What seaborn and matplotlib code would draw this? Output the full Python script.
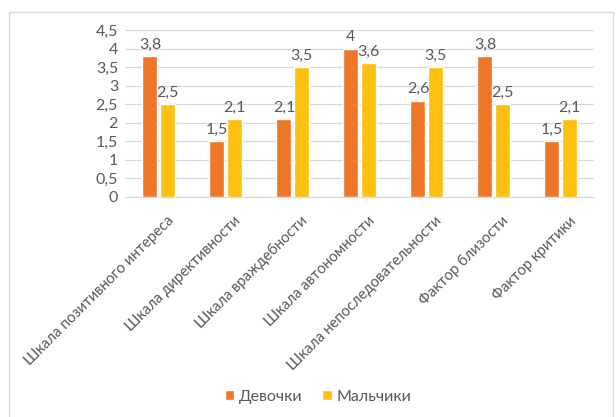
import pandas as pd
import matplotlib.pyplot as plt
import matplotlib.transforms as mtrans
import seaborn as sns
from matplotlib.patches import Rectangle
from matplotlib.ticker import FuncFormatter

# данные с диаграммы
categories = [
    "Шкала позитивного интереса",
    "Шкала директивности",
    "Шкала враждебности",
    "Шкала автономности",
    "Шкала непоследовательности",
    "Фактор близости",
    "Фактор критики",
]
girls = [3.8, 1.5, 2.1, 4.0, 2.6, 3.8, 1.5]
boys = [2.5, 2.1, 3.5, 3.6, 3.5, 2.5, 2.1]
series_names = ["Девочки", "Мальчики"]
colors = ["#EE7629", "#FCC010"]

df = pd.DataFrame({
    "cat": categories * 2,
    "val": girls + boys,
    "group": [series_names[0]] * len(categories) + [series_names[1]] * len(categories),
})

sns.set_style("white")
plt.rcParams["font.family"] = ["Lato", "Noto Sans", "DejaVu Sans"]
text_col = "#595959"
fs = 11.5

fig = plt.figure(figsize=(6.16, 4.17), dpi=100)
fig.patches.append(Rectangle((9 / 616, -2 / 417), 604 / 616, 407 / 417,
                             transform=fig.transFigure, fill=False,
                             edgecolor="#D9D9D9", linewidth=1))
ax = fig.add_axes([125 / 616, 1 - 197 / 417, 469 / 616, 167 / 417])

sns.barplot(data=df, x="cat", y="val", hue="group", palette=colors,
            saturation=1, width=0.51, gap=0.12, ax=ax, legend=True)

for cont in ax.containers:
    ax.bar_label(cont, labels=[f"{v:g}".replace(".", ",") for v in cont.datavalues],
                 padding=3, fontsize=fs, color=text_col)

ax.set_ylim(0, 4.5)
ax.set_yticks([i * 0.5 for i in range(10)])
ax.yaxis.set_major_formatter(FuncFormatter(lambda v, p: f"{v:g}".replace(".", ",")))
ax.yaxis.grid(True, color="#D9D9D9", linewidth=0.9)
ax.set_axisbelow(True)
for s in ["top", "right", "left"]:
    ax.spines[s].set_visible(False)
ax.spines["bottom"].set_color("#D9D9D9")
ax.tick_params(axis="both", length=0, labelsize=fs, labelcolor=text_col)
ax.tick_params(axis="y", pad=5)
ax.set_xlabel("")
ax.set_ylabel("")
ax.set_xticks(range(len(categories)))
ax.set_xticklabels(categories, rotation=45, ha="right", rotation_mode="anchor",
                   fontsize=10.7, color=text_col)
ax.tick_params(axis="x", pad=6)
shift = mtrans.ScaledTranslation(8 / 100, -8 / 100, fig.dpi_scale_trans)
for lab in ax.get_xticklabels():
    lab.set_transform(lab.get_transform() + shift)

leg = ax.legend(loc="center", bbox_to_anchor=(318 / 616, 1 - 397 / 417),
                bbox_transform=fig.transFigure, ncol=2, frameon=False,
                handlelength=0.6, handleheight=0.6, handletextpad=0.3,
                columnspacing=1.2, fontsize=fs)
for t in leg.get_texts():
    t.set_color(text_col)

fig.savefig("out.png", dpi=100)
